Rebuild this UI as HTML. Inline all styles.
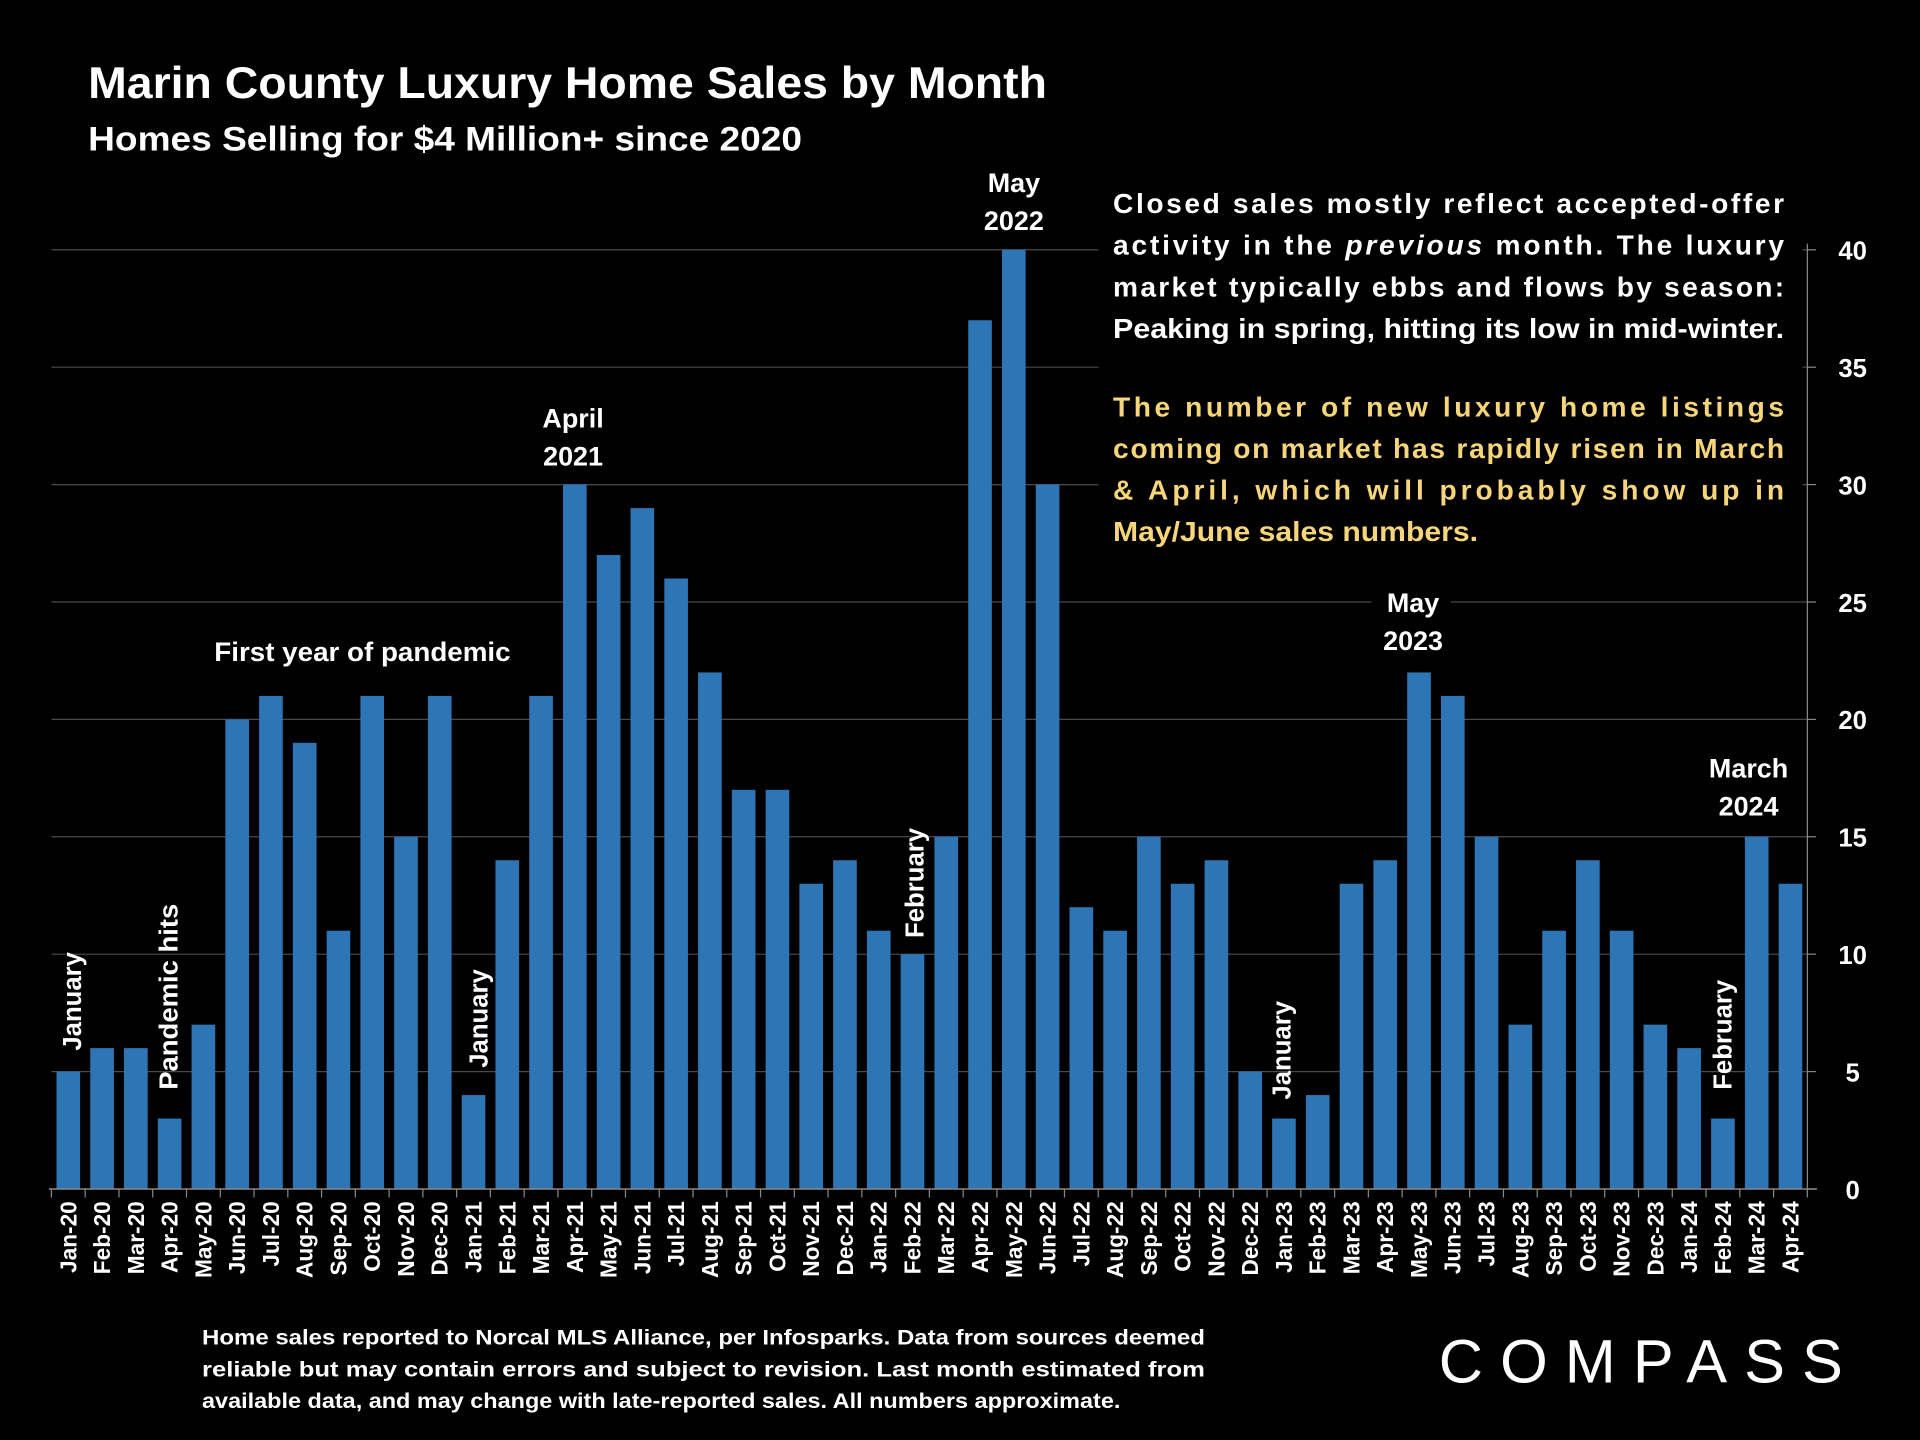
<!DOCTYPE html>
<html><head><meta charset="utf-8"><style>
html,body{margin:0;padding:0;background:#000;}
svg{display:block;}
text{font-family:"Liberation Sans",sans-serif;font-weight:bold;fill:#fff;}
</style></head><body>
<svg id="chart" width="1920" height="1440" viewBox="0 0 1568 1176" xmlns="http://www.w3.org/2000/svg">
<rect width="1568" height="1176" fill="#000"/>
<text x="72" y="80" font-size="36" textLength="783" lengthAdjust="spacingAndGlyphs">Marin County Luxury Home Sales by Month</text>
<text x="72" y="123" font-size="28" textLength="583" lengthAdjust="spacingAndGlyphs">Homes Selling for $4 Million+ since 2020</text>
<g id="grid"></g>
<g id="bars"></g>
<g id="axes"></g>
<rect x="897" y="145" width="575" height="310" fill="#000"/>
<g font-size="23">
<text x="909" y="174" textLength="548" lengthAdjust="spacing">Closed sales mostly reflect accepted-offer</text>
<text x="909" y="208" textLength="548" lengthAdjust="spacing">activity in the <tspan font-style="italic">previous</tspan> month. The luxury</text>
<text x="909" y="242" textLength="548" lengthAdjust="spacing">market typically ebbs and flows by season:</text>
<text x="909" y="276" textLength="548" lengthAdjust="spacingAndGlyphs">Peaking in spring, hitting its low in mid-winter.</text>
<text x="909" y="340" textLength="548" lengthAdjust="spacing" style="fill:#f7d57a">The number of new luxury home listings</text>
<text x="909" y="374" textLength="548" lengthAdjust="spacing" style="fill:#f7d57a">coming on market has rapidly risen in March</text>
<text x="909" y="408" textLength="548" lengthAdjust="spacing" style="fill:#f7d57a">&amp; April, which will probably show up in</text>
<text x="909" y="442" style="fill:#f7d57a" textLength="298" lengthAdjust="spacingAndGlyphs">May/June sales numbers.</text>
</g>
<g font-size="22" text-anchor="middle">
<rect x="800" y="135" width="60" height="60" fill="#000"/>
<text x="828" y="157">May</text><text x="828" y="188">2022</text>
<text x="468" y="349">April</text><text x="468" y="380">2021</text>
<text x="296" y="540" textLength="242" lengthAdjust="spacingAndGlyphs">First year of pandemic</text>
<rect x="1120" y="478" width="65" height="62" fill="#000"/>
<text x="1154" y="500">May</text><text x="1154" y="531">2023</text>
<rect x="1388" y="612" width="80" height="62" fill="#000"/>
<text x="1428" y="635">March</text><text x="1428" y="666">2024</text>
</g>
<g font-size="21" text-anchor="start">
<text transform="translate(66,858) rotate(-90)">January</text>
<text transform="translate(145,890) rotate(-90)" textLength="152" lengthAdjust="spacingAndGlyphs">Pandemic hits</text>
<text transform="translate(398,872) rotate(-90)">January</text>
<text transform="translate(754,766) rotate(-90)">February</text>
<text transform="translate(1054,898) rotate(-90)">January</text>
<text transform="translate(1414,890) rotate(-90)">February</text>
</g>
<g font-size="17">
<text x="165" y="1098" textLength="819" lengthAdjust="spacingAndGlyphs">Home sales reported to Norcal MLS Alliance, per Infosparks. Data from sources deemed</text>
<text x="165" y="1124" textLength="819" lengthAdjust="spacingAndGlyphs">reliable but may contain errors and subject to revision.  Last month estimated from</text>
<text x="165" y="1150" textLength="750" lengthAdjust="spacingAndGlyphs">available data, and may change with late-reported sales. All numbers approximate.</text>
</g>
<text x="1175" y="1129" font-size="50" style="font-weight:normal" textLength="330" lengthAdjust="spacing">COMPASS</text>
<script>
const categories=["Jan-20","Feb-20","Mar-20","Apr-20","May-20","Jun-20","Jul-20","Aug-20","Sep-20","Oct-20","Nov-20","Dec-20","Jan-21","Feb-21","Mar-21","Apr-21","May-21","Jun-21","Jul-21","Aug-21","Sep-21","Oct-21","Nov-21","Dec-21","Jan-22","Feb-22","Mar-22","Apr-22","May-22","Jun-22","Jul-22","Aug-22","Sep-22","Oct-22","Nov-22","Dec-22","Jan-23","Feb-23","Mar-23","Apr-23","May-23","Jun-23","Jul-23","Aug-23","Sep-23","Oct-23","Nov-23","Dec-23","Jan-24","Feb-24","Mar-24","Apr-24"];
const sales=[5,6,6,3,7,20,21,19,11,21,15,21,4,14,21,30,27,29,26,22,17,17,13,14,11,10,15,37,40,30,12,11,15,13,14,5,3,4,13,14,22,21,15,7,11,14,11,7,6,3,15,13];
const yTicks=[0,5,10,15,20,25,30,35,40];
const NS="http://www.w3.org/2000/svg";
const x0=42,x1=1476,yBase=971,yTop=204,yMax=40;
const step=(x1-x0)/categories.length;
const bw=step*0.7;
function xPos(i){return x0+step*(i+0.5);}
function yPos(v){return yBase-(v/yMax)*(yBase-yTop);}
function mk(tag,attrs,parent){const e=document.createElementNS(NS,tag);for(const k in attrs)e.setAttribute(k,attrs[k]);parent.appendChild(e);return e;}
const grid=document.getElementById('grid'),bars=document.getElementById('bars'),axes=document.getElementById('axes');
yTicks.forEach(t=>{
  if(t>0){const l=mk('line',{x1:x0,x2:x1,y1:yPos(t),y2:yPos(t),stroke:'#4a4a4a','stroke-width':1},grid);
  
  }
  const tk=mk('line',{x1:x1,x2:x1+7,y1:yPos(t),y2:yPos(t),stroke:'#888','stroke-width':1},axes);
  
  
  const tx=mk('text',{x:1513,y:yPos(t)+8,'font-size':21,'text-anchor':'middle'},axes);
  tx.textContent=t;
  
  
});
sales.forEach((v,i)=>{
  const r=mk('rect',{x:xPos(i)-bw/2,y:yPos(v),width:bw,height:yBase-yPos(v),fill:'#2e75b6'},bars);
  
  
});
const ax=mk('line',{x1:x0-2,x2:x1+8,y1:yBase,y2:yBase,stroke:'#888','stroke-width':1.2},axes);


const ay=mk('line',{x1:x1,x2:x1,y1:yTop-5,y2:yBase,stroke:'#888','stroke-width':1},axes);


for(let i=0;i<=categories.length;i++){
  const t=mk('line',{x1:x0+step*i,x2:x0+step*i,y1:yBase,y2:yBase+7,stroke:'#888','stroke-width':1},axes);
  
  
}
categories.forEach((c,i)=>{
  const t=mk('text',{transform:`translate(${xPos(i)+6.5},${yBase+10}) rotate(-90)`,'font-size':18.5,'text-anchor':'end'},axes);
  t.textContent=c;
  
  
});
</script>
</svg>
</body></html>
